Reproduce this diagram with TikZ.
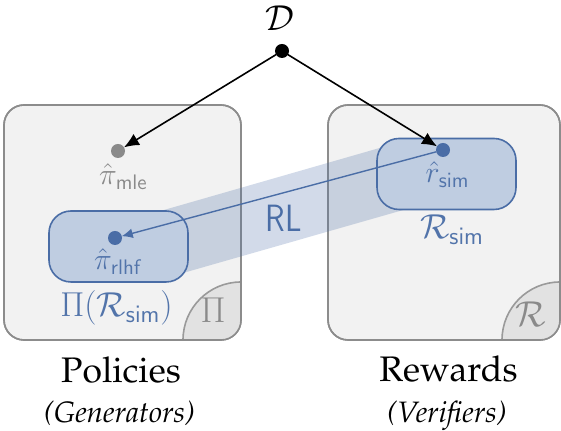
\RequirePackage{fix-cm}
\documentclass[tikz,border=0pt]{standalone}
\usetikzlibrary{arrows.meta}
\definecolor{boxfill}{HTML}{F2F2F2}
\definecolor{boxline}{HTML}{8C8C8C}
\definecolor{circfill}{HTML}{E2E2E2}
\definecolor{circline}{HTML}{9A9A9A}
\definecolor{myblue}{HTML}{4A6DA6}
\definecolor{innerfill}{HTML}{BFCDE1}
\definecolor{bluetext}{HTML}{5274AA}
\definecolor{graytext}{HTML}{8A8A8A}
\newcommand{\palafont}{\fontencoding{T1}\fontfamily{ppl}\selectfont}
\begin{document}
\begin{tikzpicture}[x=0.5pt,y=-0.5pt,
  outerbox/.style={draw=boxline, line width=0.8pt, fill=boxfill, rounded corners=10pt, inner sep=0pt, outer sep=0pt, minimum width=118.5pt, minimum height=117.5pt},
  innerbox/.style={draw=myblue, line width=0.8pt, fill=innerfill, rounded corners=11pt, inner sep=0pt, outer sep=0pt, minimum width=69.5pt, minimum height=35.5pt},
  cornercirc/.style={circle, draw=circline, fill=circfill, line width=0.8pt, minimum size=58pt, inner sep=0pt},
  dotnode/.style={circle, inner sep=0pt, outer sep=0pt, minimum size=7pt},
  lbl/.style={anchor=base, inner sep=0pt},
  mathlbl/.style={lbl, font=\fontsize{15}{18}\selectfont},
  biglbl/.style={lbl, font=\fontsize{17.3}{20}\selectfont},
  titlelbl/.style={lbl, font=\palafont\fontsize{17.75}{20}\selectfont},
  sublbl/.style={lbl, font=\palafont\fontsize{14.75}{17}\selectfont\itshape},
  blackarrow/.style={line width=0.8pt, -{Latex[length=7.5pt,width=6.5pt]}},
  bluearrow/.style={draw=myblue, line width=0.7pt, -{Latex[length=5.5pt,width=5pt]}}
]
\useasboundingbox (0,0) rectangle (561,431);

% outer boxes
\node[outerbox] (P) at (122.5,222.5) {};
\node[outerbox, minimum width=116pt] (R) at (444,222.5) {};

% corner circles
\begin{scope}
  \clip[rounded corners=10pt] (P.south west) rectangle (P.north east);
  \node[cornercirc] (Pc) at (P.south east) {};
\end{scope}
\begin{scope}
  \clip[rounded corners=10pt] (R.south west) rectangle (R.north east);
  \node[cornercirc] (Rc) at (R.south east) {};
\end{scope}
\draw[boxline, line width=0.8pt, rounded corners=10pt] (P.south west) rectangle (P.north east);
\draw[boxline, line width=0.8pt, rounded corners=10pt] (R.south west) rectangle (R.north east);

\node[biglbl, text=graytext, font=\fontsize{18}{20}\selectfont] (PcL) at (213,323) {$\Pi$};
\node[biglbl, text=graytext, font=\fontsize{18}{20}\selectfont] (RcL) at (531,327) {$\mathcal{R}$};

% RL band
\coordinate (b1) at (150,214);
\coordinate (b2) at (390,145);
\coordinate (b3) at (412,207.5);
\coordinate (b4) at (175,275.3);
\fill[myblue, opacity=0.25] (b1) -- (b2) -- (b3) -- (b4) -- cycle;

% inner boxes
\node[innerbox] (Pin) at (118.5,246.5) {};
\node[innerbox] (Rin) at (446.5,174) {};

% dots
\node[dotnode, fill=black] (D) at (282,51) {};
\node[dotnode, fill=graytext] (mle) at (118,151) {};
\node[dotnode, fill=myblue] (rlhf) at (115,238) {};
\node[dotnode, fill=myblue] (rsim) at (443,150) {};

% arrows
\draw[blackarrow] (D) -- (mle);
\draw[blackarrow] (D) -- (rsim);
\draw[bluearrow] (rsim) -- (rlhf);

% labels
\node[lbl, font=\fontsize{18}{20}\selectfont] (Dl) at (280,30.5) {$\mathcal{D}$};
\node[mathlbl, text=graytext] (mleL) at (123.5,185) {$\hat{\pi}_{\mathsf{mle}}$};
\node[mathlbl, text=bluetext] (rlhfL) at (118.5,270) {$\hat{\pi}_{\mathsf{rlhf}}$};
\node[mathlbl, text=bluetext] (rsimL) at (447.5,183) {$\hat{r}_{\mathsf{sim}}$};
\node[biglbl, text=bluetext] (PiL) at (116.5,317) {$\Pi(\mathcal{R}_{\mathsf{sim}})$};
\node[biglbl, text=bluetext] (RsimL) at (452,239) {$\mathcal{R}_{\mathsf{sim}}$};
\node[lbl, text=myblue, font=\fontsize{19}{22}\selectfont\sffamily, xscale=0.85] (RL) at (284,232) {RL};

\node[titlelbl] (pol) at (121,383) {Policies};
\node[sublbl] (gen) at (119.5,423) {(Generators)};
\node[titlelbl] (rew) at (448.5,382) {Rewards};
\node[sublbl] (ver) at (447,423) {(Verifiers)};
\end{tikzpicture}
\end{document}
